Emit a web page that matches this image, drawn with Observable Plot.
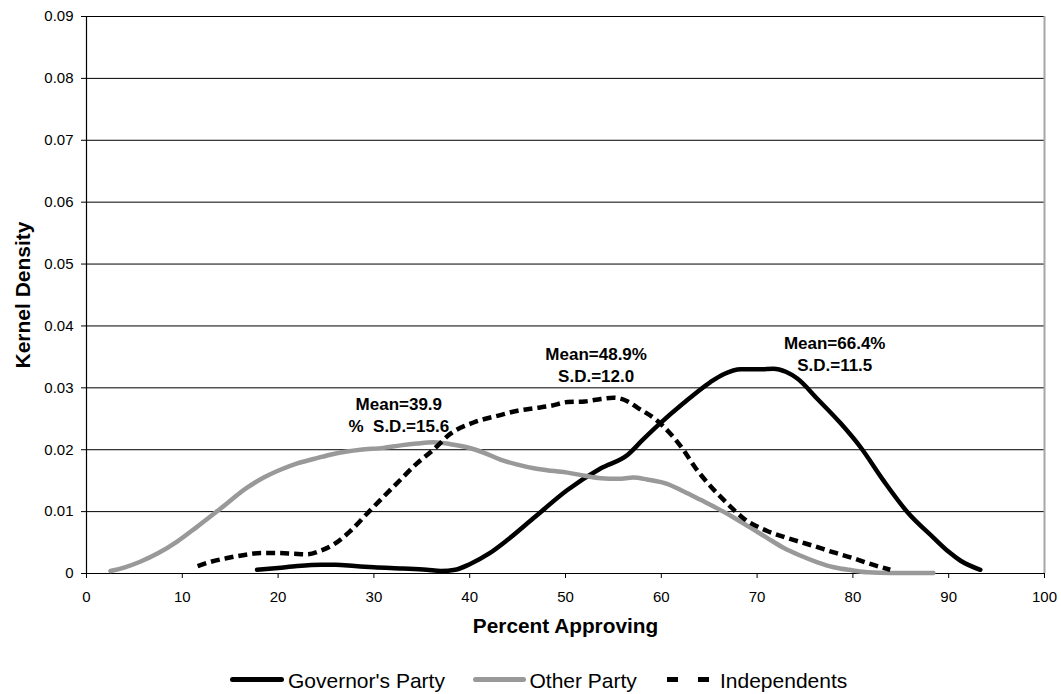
<!DOCTYPE html>
<html><head><meta charset="utf-8">
<script src="https://cdn.jsdelivr.net/npm/d3@7"></script>
<script src="https://cdn.jsdelivr.net/npm/@observablehq/plot@0.6"></script>
<style>
body{margin:0;background:#fff;font-family:"Liberation Sans",Arial,sans-serif;}
#wrap{position:relative;width:1061px;height:694px;overflow:hidden;}
#legend{position:absolute;left:0;top:650px;width:1061px;height:44px;}
#legend .sw{position:absolute;}
#legend .lb{position:absolute;top:18.7px;font-size:21px;line-height:24px;white-space:nowrap;color:#000;}
svg text{white-space:pre;}
</style></head><body><div id="wrap"><div id="chart"></div><div id="legend"></div></div>
<script>
// ---- data ----
const seriesNames = ["Governor's Party", "Other Party", "Independents"];

const govX = [17.8,20,22,24.5,26,28,30,33,35.5,37,38.5,40,42,44,46.7,50.2,53.7,56.5,58,59.7,62.3,65.1,66.5,68.3,70.4,71.7,73,74.2,76.3,78.7,80.8,83.2,85.7,88.4,90,91.2,93.3];
const govY = [0.0006,0.0009,0.0012,0.0014,0.0014,0.0012,0.0010,0.0008,0.0006,0.0004,0.0006,0.0015,0.0032,0.0055,0.0090,0.0135,0.0170,0.0192,0.0215,0.0240,0.0275,0.0309,0.0322,0.0330,0.0330,0.0331,0.0326,0.0315,0.0282,0.0243,0.0204,0.0150,0.0099,0.0058,0.0035,0.0021,0.0006];

const othX = [2.5,4,5.6,7.5,9.5,11.5,14,16.8,18.5,20.3,22,23.7,26,28.6,31,32.8,34.5,36.2,38,39.7,41.5,43.2,45,46.7,48.5,50.2,52,53.7,55.5,57.1,58.5,60.6,62.3,64.1,66,67.6,69.3,71,72.7,74.5,76.3,78,80,81.5,84,88.4];
const othY = [0.0004,0.0010,0.0019,0.0033,0.0052,0.0075,0.0105,0.0139,0.0155,0.0168,0.0178,0.0185,0.0194,0.0200,0.0203,0.0207,0.0210,0.0212,0.0209,0.0204,0.0195,0.0184,0.0176,0.0170,0.0166,0.0163,0.0158,0.0154,0.0153,0.0155,0.0152,0.0145,0.0133,0.0119,0.0104,0.0090,0.0074,0.0058,0.0042,0.0029,0.0018,0.0010,0.0005,0.0002,0.0001,0.0001];

const indX = [11.6,13,14.7,16.5,18.2,20,21.6,23,24.3,25.8,27.5,29.3,31,32.8,34.5,36.2,38,40.4,43.2,45,46.7,48.5,50.2,52,53.7,55,56.5,57.5,59.4,61,62.3,63.5,64.8,66.9,68.6,71,72.8,74.5,76,78,80,81.5,83.9];
const indY = [0.0012,0.0019,0.0025,0.0030,0.0033,0.0033,0.0032,0.0031,0.0036,0.0047,0.0068,0.0097,0.0124,0.0152,0.0178,0.0200,0.0226,0.0244,0.0256,0.0263,0.0267,0.0271,0.0277,0.0278,0.0282,0.0284,0.0278,0.0268,0.0249,0.0225,0.0200,0.0172,0.0147,0.0113,0.0089,0.0069,0.0059,0.0051,0.0044,0.0034,0.0025,0.0017,0.0006];

const xTicks = [0,10,20,30,40,50,60,70,80,90,100];
const yTicks = [0,0.01,0.02,0.03,0.04,0.05,0.06,0.07,0.08,0.09];
const yTickLabels = ["0","0.01","0.02","0.03","0.04","0.05","0.06","0.07","0.08","0.09"];

const annX = [78.1, 53.2, 32.6];
const annY = [0.0357, 0.0338, 0.0258];
const annText = ["Mean=66.4%\nS.D.=11.5", "Mean=48.9%\nS.D.=12.0", "Mean=39.9\n%  S.D.=15.6"];

const xTitle = "Percent Approving";
const yTitle = "Kernel Density";

// ---- build ----
const toRows = (xs, ys) => xs.map((x, i) => ({x, y: ys[i]}));
const gov = toRows(govX, govY), oth = toRows(othX, othY), ind = toRows(indX, indY);
const ann = annX.map((x, i) => ({x, y: annY[i], t: annText[i]}));

const chart = Plot.plot({
  width: 1061, height: 650,
  marginLeft: 86, marginRight: 17, marginTop: 16, marginBottom: 77,
  style: {fontFamily: '"Liberation Sans", Arial, sans-serif', fontSize: "15px", color: "#000", background: "#fff", overflow: "visible"},
  x: {domain: [0, 100]},
  y: {domain: [0, 0.09]},
  marks: [
    Plot.ruleY(yTicks.slice(1), {stroke: "#000", strokeWidth: 1}),
    Plot.ruleX([100], {stroke: "#a6a6a6", strokeWidth: 2}),
    Plot.ruleX([0], {stroke: "#000", strokeWidth: 1.2}),
    Plot.ruleY([0], {stroke: "#000", strokeWidth: 1.2}),
    Plot.axisX({ticks: xTicks, tickSize: 5, tickPadding: 13, label: null, fontSize: 15, stroke: "#000"}),
    Plot.axisY({ticks: yTicks, tickSize: 5, tickPadding: 8, label: null, fontSize: 15,
      tickFormat: d => yTickLabels[yTicks.indexOf(d)]}),
    Plot.line(gov, {x: "x", y: "y", stroke: "#000", strokeWidth: 4.5, curve: "monotone-x"}),
    Plot.line(oth, {x: "x", y: "y", stroke: "#999", strokeWidth: 4.5, curve: "monotone-x"}),
    Plot.line(ind, {x: "x", y: "y", stroke: "#000", strokeWidth: 4.5, strokeDasharray: "9,5", strokeLinecap: "butt", curve: "monotone-x"}),
    Plot.text(ann, {x: "x", y: "y", text: "t", fontWeight: "bold", fontSize: 17, lineHeight: 1.3, fill: "#000"}),
    Plot.text([yTitle], {frameAnchor: "left", rotate: -90, dx: -63, textAnchor: "middle", lineAnchor: "middle", fontWeight: "bold", fontSize: 21, fill: "#000"}),
    Plot.text([xTitle], {frameAnchor: "bottom", dy: 53, textAnchor: "middle", lineAnchor: "middle", fontWeight: "bold", fontSize: 20.8, fill: "#000"})
  ]
});
document.getElementById("chart").appendChild(chart);

// ---- legend ----
const legend = document.getElementById("legend");
const legendItems = [
  {name: seriesNames[0], kind: "solid", color: "#000", sx: 230, sw: 54, tx: 288},
  {name: seriesNames[1], kind: "solid", color: "#999", sx: 473, sw: 53, tx: 529.5},
  {name: seriesNames[2], kind: "dash", color: "#000", sx: 667, sw: 11, tx: 720}
];
for (const it of legendItems) {
  if (it.kind === "solid") {
    const s = document.createElement("div");
    s.className = "sw";
    Object.assign(s.style, {left: it.sx + "px", top: "26.5px", width: it.sw + "px", height: "5px", background: it.color, borderRadius: "2.5px"});
    legend.appendChild(s);
  } else {
    for (const off of [0, 30.5]) {
      const s = document.createElement("div");
      s.className = "sw";
      Object.assign(s.style, {left: (it.sx + off) + "px", top: "26.5px", width: it.sw + "px", height: "5px", background: it.color});
      legend.appendChild(s);
    }
  }
  const t = document.createElement("span");
  t.className = "lb";
  t.style.left = it.tx + "px";
  t.textContent = it.name;
  legend.appendChild(t);
}
</script></body></html>
